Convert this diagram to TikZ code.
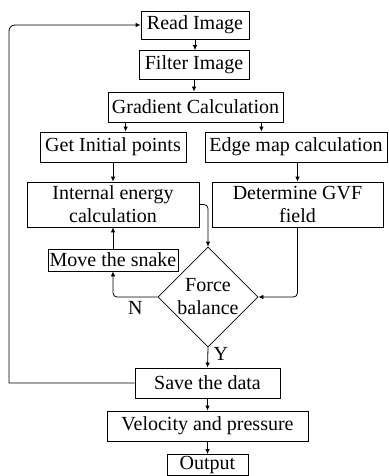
\documentclass[tikz,border=0pt]{standalone}
\usepackage{fontspec}
\setmainfont{Liberation Serif}
\usetikzlibrary{positioning,calc,shapes.geometric,arrows.meta}

\tikzset{
  blockbox/.style={draw, line width=0.8pt, inner sep=0pt, align=center},
  flow/.style={-{Latex[length=5pt,width=4.5pt]}, line width=0.8pt},
}

\begin{document}
\begin{tikzpicture}[x=1pt,y=-1pt,font=\fontsize{20}{23}\selectfont]
\useasboundingbox (0,0) rectangle (388,476);

\node[blockbox, minimum width=108, minimum height=28] (read) at (195,25) {Read Image};
\node[blockbox, minimum width=110, minimum height=29] (filter) at (194,65) {Filter Image};
\node[blockbox, minimum width=175, minimum height=30] (grad) at (195.5,107) {Gradient Calculation};
\node[blockbox, minimum width=146, minimum height=30] (init) at (113,147) {Get Initial points};
\node[blockbox, minimum width=182, minimum height=30] (edge) at (296,147) {Edge map calculation};
\node[blockbox, minimum width=172, minimum height=45] (internal) at (113,204.5) {Internal energy\\calculation};
\node[blockbox, minimum width=171, minimum height=45] (gvf) at (297.5,204.5) {Determine GVF\\field};
\node[blockbox, minimum width=130, minimum height=22] (move) at (113,260) {Move the snake};
\node[diamond, draw, line width=0.8pt, inner sep=-3pt, minimum width=100, minimum height=100, align=center] (force) at (208,297) {Force\\balance};
\node[blockbox, minimum width=145, minimum height=30] (save) at (207.5,383) {Save the data};
\node[blockbox, minimum width=201, minimum height=30] (vel) at (207.5,426) {Velocity and pressure};
\node[blockbox, minimum width=81, minimum height=21] (out) at (207.5,465) {Output};
\coordinate (back) at (9,0);

% main line
\draw[flow] (read) -- (read |- filter.north);
\draw[flow] (filter) -- (filter |- grad.north);
\draw[flow] ([xshift=18]grad.south west) -- ([xshift=18]grad.south west |- init.north);
\draw[flow] ([xshift=-22]grad.south east) -- ([xshift=-22]grad.south east |- edge.north);
\draw[flow] (init) -- (internal);
\draw[flow] (gvf.north |- edge.south) -- (gvf.north);
\draw[flow] (move.north) -- (move.north |- internal.south);

% into the force balance
\draw[flow, rounded corners=4pt] (internal.east) -| (force.north);
\draw[flow, rounded corners=4pt] (gvf.south) |- (force.east);
\draw[flow, rounded corners=4pt] (force.west) -| node[pos=0.25, below=1pt] {N} (move.south);
\draw[flow] (force.south) -- node[pos=0.3, right=2pt] {Y} (save.north);

% back to the start
\draw[flow] (save.west) -- (save.west -| back) [rounded corners=6pt] |- (read.west);

\draw[flow] (save) -- (vel);
\draw[flow] (vel) -- (out);
\end{tikzpicture}
\end{document}
